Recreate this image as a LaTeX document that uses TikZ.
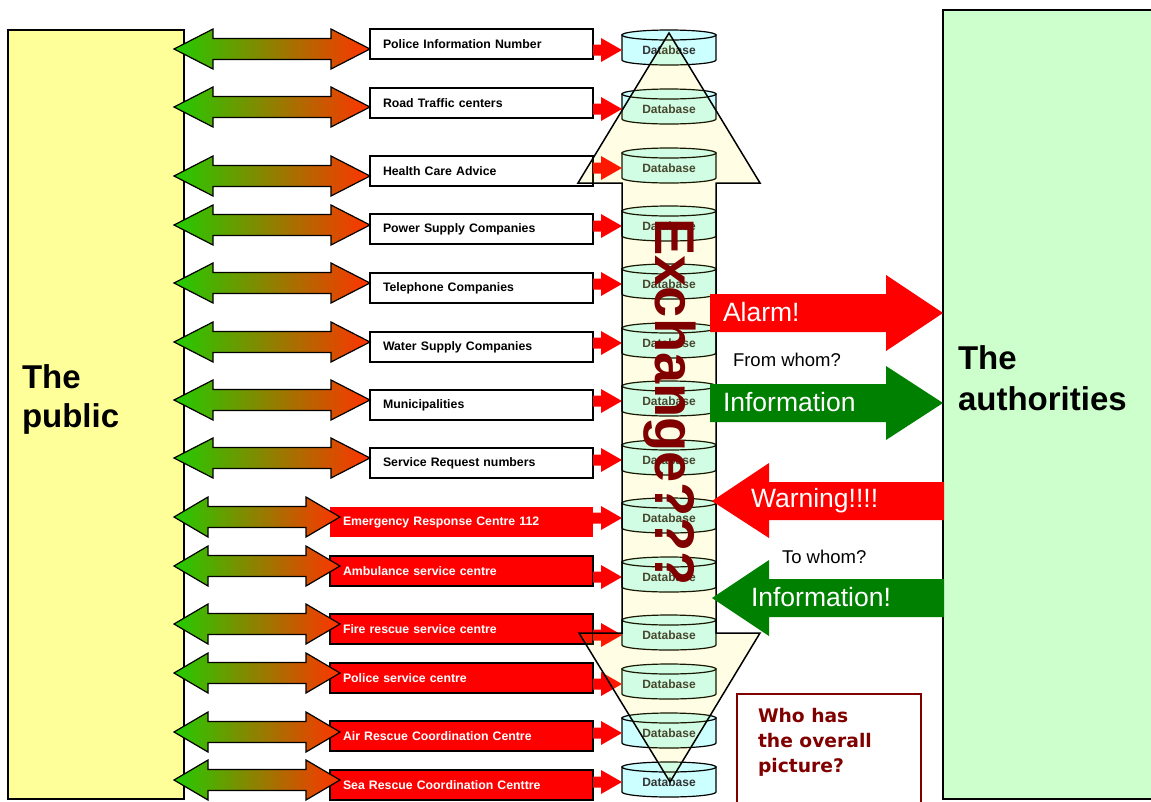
\documentclass[tikz,border=0pt]{standalone}
\usepackage{fontspec}
\setmainfont{Liberation Sans}
\newfontfamily\verd{DejaVu Sans}
\usetikzlibrary{calc}

\definecolor{pubyellow}{HTML}{FFFF99}
\definecolor{authgreen}{HTML}{CCFFCC}
\definecolor{dbcyan}{HTML}{CCFFFF}
\definecolor{maroon}{HTML}{800000}
\definecolor{okgreen}{HTML}{008000}
\definecolor{gradgreen}{RGB}{34,204,0}
\definecolor{gradred}{RGB}{255,51,0}
\definecolor{dbgray}{HTML}{333333}

\tikzset{
  party/.style={draw=black, line width=1.2pt, anchor=north west, inner sep=0pt},
  partylabel/.style={anchor=north west, align=left, inner sep=0pt},
  wbox/.style={draw=black, line width=1.2pt, fill=white, anchor=west,
    minimum height=30pt, text width=197pt, inner xsep=13pt, inner ysep=0pt,
    align=left, font=\bfseries\fontsize{12.3}{14}\selectfont},
  rbox/.style={wbox, fill=red, text=white, text width=237pt},
  dblarr/.style={draw=black, line width=1.2pt, left color=gradgreen,
    right color=gradred, line join=miter},
  dbbody/.style={draw=black, line width=1.2pt, fill=dbcyan},
  dbtext/.style={minimum width=94pt, inner sep=0pt, text=dbgray,
    font=\bfseries\fontsize{12}{14}\selectfont},
  bigtext/.style={anchor=west, inner sep=0pt, text=white,
    font=\fontsize{26.5}{30}\selectfont},
  smalltext/.style={anchor=west, inner sep=0pt,
    font=\fontsize{18.5}{22}\selectfont},
}

% database cylinder: #1 name, #2 vertical position of its label
\newcommand\db[2]{%
  \filldraw[dbbody] (622,{#2-15}) -- (622,{#2+10})
    arc[start angle=180, end angle=0, x radius=47, y radius=5]
    -- (716,{#2-15}) -- cycle;
  \filldraw[dbbody] (669,{#2-15}) ellipse[x radius=47, y radius=5];
  \node[dbtext] (#1) at (669,#2) {Database};}

% two-way gradient arrow from the public to a service box:
% #1 box, #2 overlap into the box, #3 vertical offset, #4 head length
\newcommand\dblarrow[4]{%
  \path[dblarr]
    ($(public.east |- #1.west)+(-10,#3)$) coordinate (L)
    ($(#1.west)+(#2,#3)$) coordinate (R)
    (L) -- ($(L)+(#4,-20)$) -- ($(L)+(#4,-10.5)$)
    -- ($(R)+(-#4,-10.5)$) -- ($(R)+(-#4,-20)$) -- (R)
    -- ($(R)+(-#4,20)$) -- ($(R)+(-#4,10.5)$)
    -- ($(L)+(#4,10.5)$) -- ($(L)+(#4,20)$) -- cycle;}

% small red feed arrow from a service box to its database
\newcommand\feed[2]{%
  \fill[red] ($(#1.east |- #2.west)+(0,-5.5)$) -- ($(#2.west)+(-21,-5.5)$)
    -- ($(#2.west)+(-21,-12)$) -- (#2.west) -- ($(#2.west)+(-21,12)$)
    -- ($(#2.west)+(-21,5.5)$) -- ($(#1.east |- #2.west)+(0,5.5)$) -- cycle;}

\begin{document}
\begin{tikzpicture}[x=1pt, y=-1pt, every node/.append style={outer sep=0pt}]
\useasboundingbox (0,0) rectangle (1151,801);

% the two parties
\node[party, fill=pubyellow, minimum width=176pt, minimum height=769pt] (public) at (8,30) {};
\node[partylabel, font=\bfseries\fontsize{33}{39}\selectfont] (publabel) at (22,364.5) {The\\public};
\node[party, fill=authgreen, minimum width=216pt, minimum height=789pt] (auth) at (943,10) {};
\node[partylabel, font=\bfseries\fontsize{33}{41}\selectfont] (authlabel) at (958,345.5) {The\\authorities};

% service boxes
\node[wbox] (b1) at (370,44) {Police Information Number};
\node[wbox] (b2) at (370,103) {Road Traffic centers};
\node[wbox] (b3) at (370,171) {Health Care Advice};
\node[wbox] (b4) at (370,229) {Power Supply Companies};
\node[wbox] (b5) at (370,288) {Telephone Companies};
\node[wbox] (b6) at (370,347) {Water Supply Companies};
\node[wbox] (b7) at (370,405) {Municipalities};
\node[wbox] (b8) at (370,463) {Service Request numbers};
\node[rbox, draw=none] (b9) at (330,522) {Emergency Response Centre 112};
\node[rbox] (b10) at (330,571) {Ambulance service centre};
\node[rbox] (b11) at (330,629) {Fire rescue service centre};
\node[rbox] (b12) at (330,678) {Police service centre};
\node[rbox] (b13) at (330,736) {Air Rescue Coordination Centre};
\node[rbox] (b14) at (330,785) {Sea Rescue Coordination Centtre};

% two-way links between the public and the services
\dblarrow{b1}{0}{5}{39}
\dblarrow{b2}{0}{4}{39}
\dblarrow{b3}{0}{5}{39}
\dblarrow{b4}{0}{-4}{39}
\dblarrow{b5}{0}{-5}{39}
\dblarrow{b6}{0}{-5}{39}
\dblarrow{b7}{0}{-5}{39}
\dblarrow{b8}{0}{-5}{39}
\dblarrow{b9}{10}{-5}{34}
\dblarrow{b10}{10}{-5}{34}
\dblarrow{b11}{10}{-5}{34}
\dblarrow{b12}{10}{-5}{34}
\dblarrow{b13}{10}{-4}{34}
\dblarrow{b14}{10}{-5}{34}

% databases
\db{d1}{50}
\db{d2}{109}
\db{d3}{168}
\db{d4}{226}
\db{d5}{284}
\db{d6}{343}
\db{d7}{401}
\db{d8}{460}
\db{d9}{518}
\db{d10}{577}
\db{d11}{635}
\db{d12}{684}
\db{d13}{733}
\db{d14}{782}

% feeds into the databases
\feed{b1}{d1}
\feed{b2}{d2}
\feed{b3}{d3}
\feed{b4}{d4}
\feed{b5}{d5}
\feed{b6}{d6}
\feed{b7}{d7}
\feed{b8}{d8}
\feed{b9}{d9}
\feed{b10}{d10}
\feed{b11}{d11}
\feed{b12}{d12}
\feed{b13}{d13}
\feed{b14}{d14}

% exchange column (two-headed vertical arrow)
\filldraw[draw=black, line width=1.5pt, fill=yellow, fill opacity=0.1, line join=miter]
  (669,33) -- (760,183) -- (716,183) -- (716,633) -- (760,633) -- (670,782)
  -- (579,633) -- (622,633) -- (622,183) -- (578,183) -- cycle;

% messages to and from the authorities
\fill[red] (710,294) -- (886,294) -- (886,275) -- (943,313) -- (886,351) -- (886,332) -- (710,332) -- cycle;
\node[bigtext] (alarm) at (723,312) {Alarm!};
\node[smalltext] (fromwhom) at (733,360) {From whom?};
\fill[okgreen] (710,384) -- (886,384) -- (886,366) -- (943,403) -- (886,440) -- (886,422) -- (710,422) -- cycle;
\node[bigtext] (infoout) at (723,402) {Information};
\fill[red] (944,482) -- (769,482) -- (769,463) -- (712,501) -- (769,538) -- (769,520) -- (944,520) -- cycle;
\node[bigtext] (warning) at (751,501) {Warning!!!!};
\node[smalltext] (towhom) at (782,557) {To whom?};
\fill[okgreen] (944,579) -- (769,579) -- (769,560) -- (712,598) -- (769,636) -- (769,617) -- (944,617) -- cycle;
\node[bigtext] (infoin) at (751,597) {Information!};

% column caption
\node[rotate=-90, inner sep=0pt, text=maroon, font=\bfseries\fontsize{56}{60}\selectfont] (exchange) at (670,402) {Exchange???};

% question box
\node[draw=maroon, line width=1.5pt, fill=white, minimum width=184pt, minimum height=130pt, anchor=north west, inner sep=0pt] (who) at (737,694) {};
\node[anchor=north west, align=left, inner sep=0pt, text=maroon, font=\verd\bfseries\fontsize{18.7}{25}\selectfont] (whotext) at (758,708.5) {Who has\\the overall\\picture?};
\end{tikzpicture}
\end{document}
